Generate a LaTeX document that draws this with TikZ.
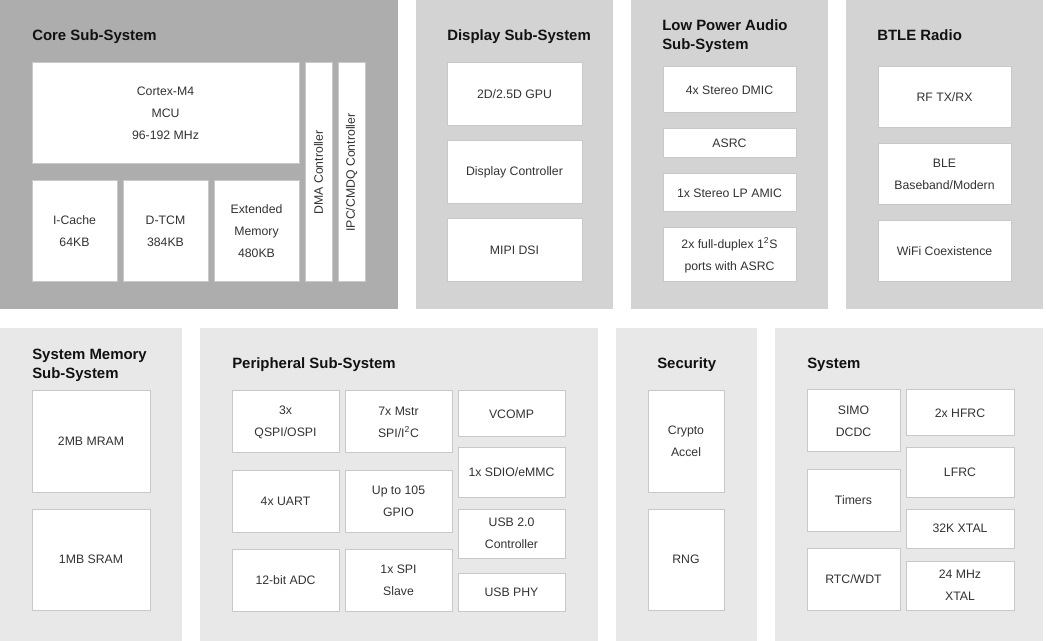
\documentclass[tikz,border=0pt]{standalone}
\usepackage{fontspec}
\setmainfont{Liberation Sans}
\definecolor{coregray}{HTML}{ADADAD}
\definecolor{topgray}{HTML}{D3D3D3}
\definecolor{botgray}{HTML}{E8E8E8}
\definecolor{boxline}{HTML}{C8C8C8}
\definecolor{bodytext}{HTML}{333333}
\definecolor{titletext}{HTML}{111111}
\newcommand{\bx}[6]{\node[box, minimum width={(#4-#2)*0.75pt}, minimum height={(#5-#3)*0.75pt}] (#1) at ({(#2+#4)/2},{(#3+#5)/2}) {#6};}
\newcommand{\vbx}[6]{\node[box, rotate=90, minimum height={(#4-#2)*0.75pt}, minimum width={(#5-#3)*0.75pt}] (#1) at ({(#2+#4)/2},{(#3+#5)/2}) {#6};}
\begin{document}
\begin{tikzpicture}[x=0.75pt,y=-0.75pt,
  box/.style={draw=boxline, line width=0.75pt, fill=white, inner sep=0pt, align=center, text=bodytext, font={\fontsize{9.2}{16.5}\selectfont}},
  ttl/.style={anchor=base west, inner sep=0pt, align=left, text=titletext, font={\fontsize{11.2}{14.25}\selectfont\bfseries}}]
\useasboundingbox (0,0) rectangle (1046,641);
\fill[white] (0,0) rectangle (1046,641);
% panels
\fill[coregray] (0,0) rectangle (398,309);
\fill[topgray] (416,0) rectangle (613,309);
\fill[topgray] (631,0) rectangle (828,309);
\fill[topgray] (846,0) rectangle (1043,309);
\fill[botgray] (0,328) rectangle (182,641);
\fill[botgray] (200,328) rectangle (598,641);
\fill[botgray] (616,328) rectangle (757,641);
\fill[botgray] (775,328) rectangle (1043,641);
% titles
\node[ttl] (tcore) at (32,41) {Core Sub-System};
\node[ttl] (tdisp) at (447,41) {Display Sub-System};
\node[ttl] (taudio) at (662,50) {Low Power Audio\\Sub-System};
\node[ttl] (tbtle) at (877,41) {BTLE Radio};
\node[ttl] (tmem) at (32,379) {System Memory\\Sub-System};
\node[ttl] (tper) at (232,369) {Peripheral Sub-System};
\node[ttl] (tsec) at (657,369) {Security};
\node[ttl] (tsys) at (807,369) {System};
% core
\bx{cortex}{32}{63}{299}{164}{Cortex-M4\\MCU\\96-192 MHz}
\bx{icache}{32}{181}{117}{282}{I-Cache\\64KB}
\bx{dtcm}{123}{181}{208}{282}{D-TCM\\384KB}
\bx{extmem}{214}{181}{299}{282}{Extended\\Memory\\480KB}
\vbx{dma}{305}{63}{332}{282}{DMA Controller}
\vbx{ipc}{338}{63}{365}{282}{IPC/CMDQ Controller}
% display
\bx{gpu}{447}{63}{582}{126}{2D/2.5D GPU}
\bx{dispctl}{447}{141}{582}{204}{Display Controller}
\bx{mipi}{447}{219}{582}{282}{MIPI DSI}
% audio
\bx{dmic}{663}{67}{796}{113}{4x Stereo DMIC}
\bx{asrc}{663}{129}{796}{158}{ASRC}
\bx{amic}{663}{174}{796}{212}{1x Stereo LP AMIC}
\bx{i2s}{663}{228}{796}{282}{2x full-duplex 1\textsuperscript{2}S\\ports with ASRC}
% btle
\bx{rf}{878}{67}{1011}{128}{RF TX/RX}
\bx{ble}{878}{144}{1011}{205}{BLE\\Baseband/Modern}
\bx{wifi}{878}{221}{1011}{282}{WiFi Coexistence}
% system memory
\bx{mram}{32}{391}{150}{492}{2MB MRAM}
\bx{sram}{32}{509}{150}{610}{1MB SRAM}
% peripheral
\bx{qspi}{232}{391}{339}{453}{3x\\QSPI/OSPI}
\bx{mstr}{345}{391}{452}{453}{7x Mstr\\SPI/I\textsuperscript{2}C}
\bx{uart}{232}{470}{339}{532}{4x UART}
\bx{gpio}{345}{470}{452}{532}{Up to 105\\GPIO}
\bx{adc}{232}{549}{339}{611}{12-bit ADC}
\bx{spis}{345}{549}{452}{611}{1x SPI\\Slave}
\bx{vcomp}{458}{391}{565}{437}{VCOMP}
\bx{sdio}{458}{448}{565}{497}{1x SDIO/eMMC}
\bx{usbc}{458}{509}{565}{558}{USB 2.0\\Controller}
\bx{usbphy}{458}{573}{565}{611}{USB PHY}
% security
\bx{crypto}{648}{391}{724}{492}{Crypto\\Accel}
\bx{rng}{648}{509}{724}{610}{RNG}
% system
\bx{simo}{807}{390}{900}{452}{SIMO\\DCDC}
\bx{timers}{807}{469}{900}{531}{Timers}
\bx{rtc}{807}{548}{900}{610}{RTC/WDT}
\bx{hfrc}{906}{390}{1014}{436}{2x HFRC}
\bx{lfrc}{906}{448}{1014}{497}{LFRC}
\bx{xtal32}{906}{509}{1014}{548}{32K XTAL}
\bx{xtal24}{906}{561}{1014}{610}{24 MHz\\XTAL}
\end{tikzpicture}
\end{document}
